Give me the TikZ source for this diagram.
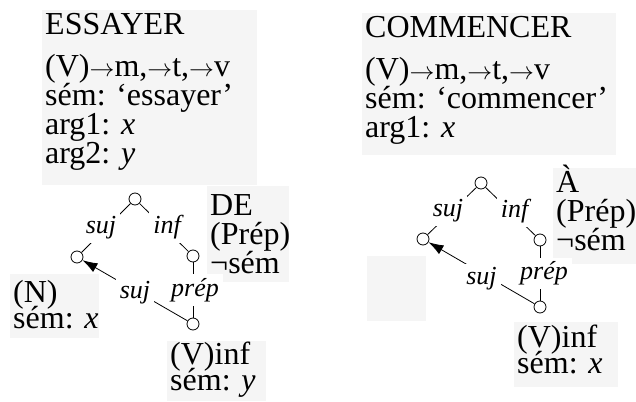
\documentclass[tikz,border=0pt]{standalone}
\usepackage{fontspec}
\setmainfont{Liberation Serif}
\usepackage{tikz}
\usetikzlibrary{arrows.meta, positioning}
\definecolor{boxgray}{RGB}{245,245,245}
\setlength{\lineskiplimit}{-100pt}
\newcommand{\ra}{$\rightarrow$}

\begin{document}
\begin{tikzpicture}[x=1pt, y=-1pt,
    lexbg/.style={fill=boxgray, anchor=north west, inner sep=0pt},
    lex/.style={anchor=base west, align=left, inner sep=0pt, font=\fontsize{32}{29}\selectfont},
    tight/.style={font=\fontsize{32}{26}\selectfont},
    pt/.style={circle, draw, minimum size=12pt, inner sep=0pt, line width=0.8pt},
    rel/.style={fill=white, inner sep=4pt, font=\fontsize{26}{26}\selectfont\itshape},
    link/.style={line width=0.8pt},
    arr/.style={link, -{Latex[length=15pt, width=10pt]}}
]
\useasboundingbox (0,0) rectangle (636,401);

% gray backgrounds
\node[lexbg, minimum width=215pt, minimum height=175pt] (essayerbg) at (42,10) {};
\node[lexbg, minimum width=82pt, minimum height=96pt] (debg) at (207,186) {};
\node[lexbg, minimum width=89pt, minimum height=64pt] (nbg) at (10,274) {};
\node[lexbg, minimum width=99pt, minimum height=60pt] (vinfbg) at (167,341) {};
\node[lexbg, minimum width=254pt, minimum height=142pt] (commencerbg) at (362,13) {};
\node[lexbg, minimum width=83pt, minimum height=96pt] (abg) at (553,168) {};
\node[lexbg, minimum width=59pt, minimum height=65pt] (emptybg) at (367,256) {};
\node[lexbg, minimum width=104pt, minimum height=65pt] (vinfbgb) at (514,322) {};

% ESSAYER (base = last line)
\node[lex] (essayer) at (45,163) {ESSAYER\\[12pt](V)\ra m,\ra t,\ra v\\sém: ‘essayer’\\arg1: \textit{x}\\arg2: \textit{y}};
\node[lex] (de) at (210,273) {DE\\(Prép)\\¬sém};
\node[lex, tight] (n) at (13,328) {(N)\\sém: \textit{x}};
\node[lex, tight] (vinf) at (170,390) {(V)inf\\sém: \textit{y}};

\node[pt] (t1) at (135,199) {};
\node[pt] (l1) at (77,257) {};
\node[pt] (r1) at (193,256) {};
\node[pt] (b1) at (193,324) {};

\draw[link] (t1) -- node[rel, xshift=-5pt] {suj} (l1);
\draw[link] (t1) -- node[rel, xshift=3pt] {inf} (r1);
\draw[link] (r1) -- node[rel, xshift=2pt] {prép} (b1);
\draw[arr] (b1) -- node[rel, yshift=-2pt] {suj} (l1);

% COMMENCER
\node[lex] (commencer) at (365,137) {COMMENCER\\[13pt](V)\ra m,\ra t,\ra v\\sém: ‘commencer’\\arg1: \textit{x}};
\node[lex] (a) at (556,250) {À\\(Prép)\\¬sém};
\node[lex, tight] (vinfb) at (517,373) {(V)inf\\sém: \textit{x}};

\node[pt] (t2) at (481,183) {};
\node[pt] (l2) at (423,239) {};
\node[pt] (r2) at (540,240) {};
\node[pt] (b2) at (540,307) {};

\draw[link] (t2) -- node[rel, xshift=-4pt] {suj} (l2);
\draw[link] (t2) -- node[rel, xshift=4pt] {inf} (r2);
\draw[link] (r2) -- node[rel, xshift=4pt] {prép} (b2);
\draw[arr] (b2) -- node[rel, yshift=-6pt] {suj} (l2);
\end{tikzpicture}
\end{document}
